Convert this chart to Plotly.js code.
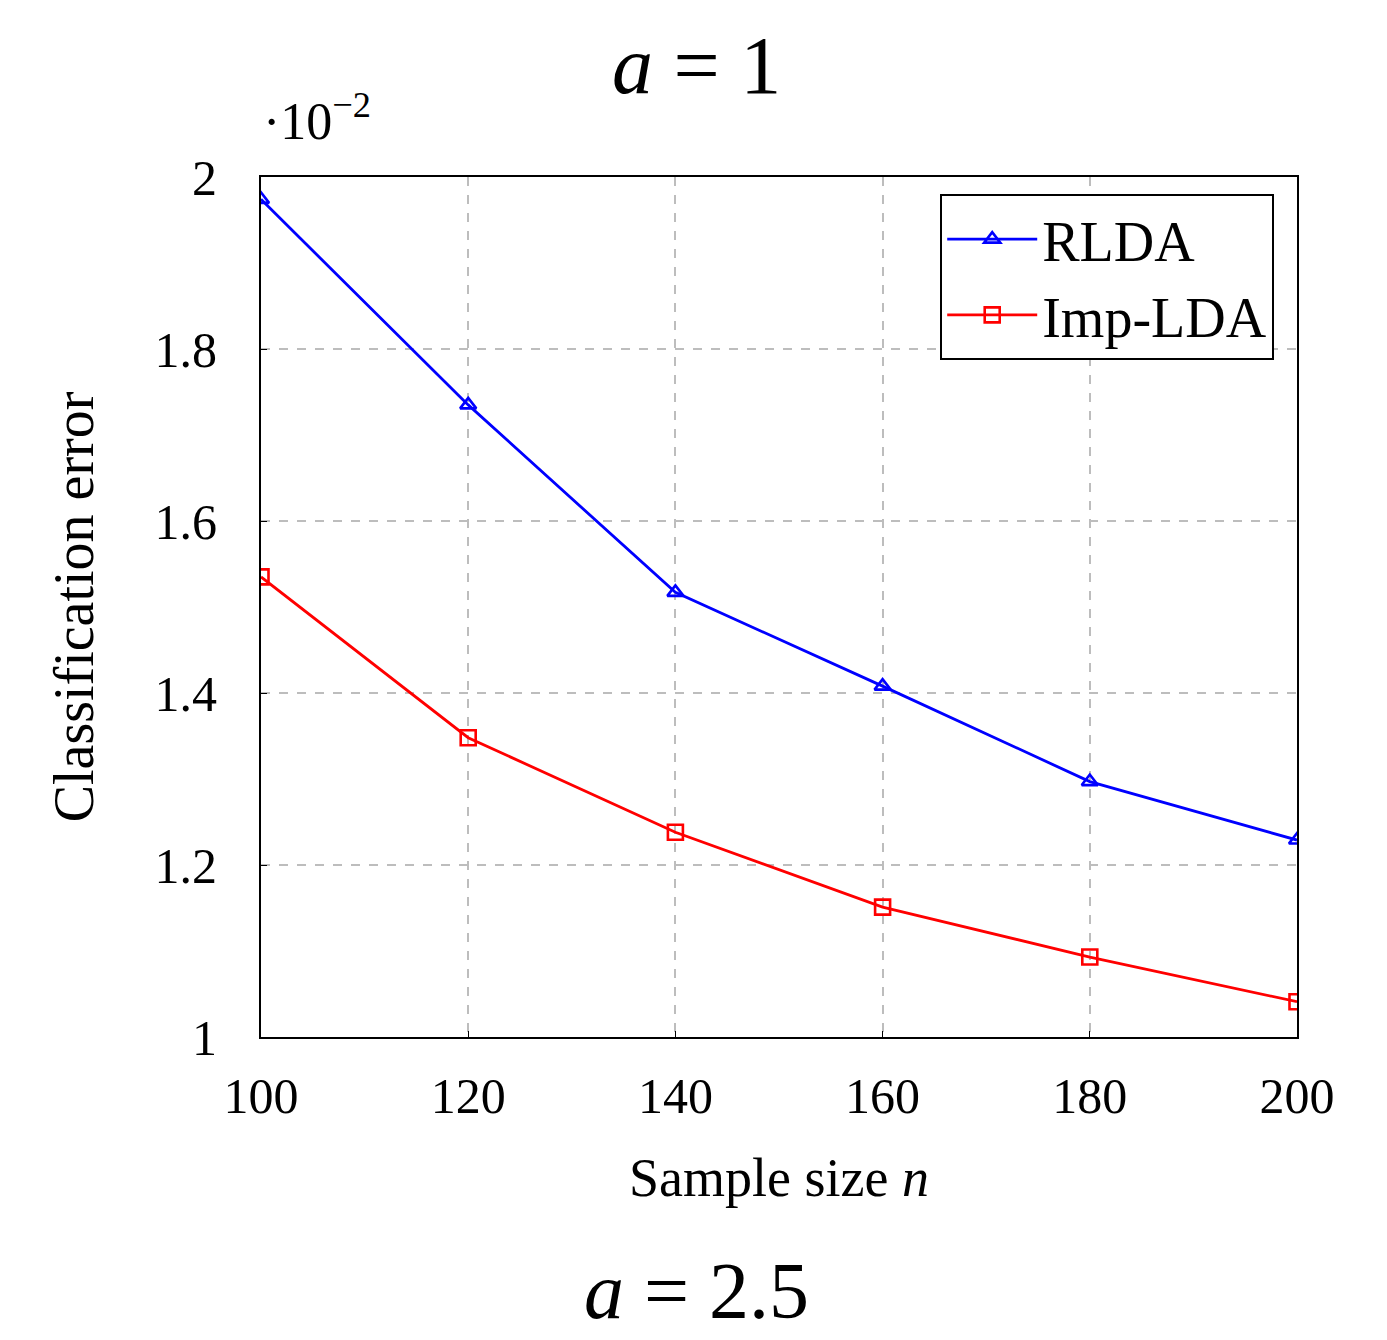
<!DOCTYPE html>
<html><head><meta charset="utf-8">
<script src="https://cdn.plot.ly/plotly-3.0.1.min.js"></script>
<style>body{margin:0;background:#fff}#plot{width:1387px;height:1340px}</style>
</head><body><div id="plot"></div>
<script>
const sampleSizes = [100, 120, 140, 160, 180, 200];
const rlda = [1.974, 1.735, 1.517, 1.408, 1.297, 1.229];
const impLda = [1.535, 1.348, 1.238, 1.151, 1.093, 1.041];
const yTicks = [1, 1.2, 1.4, 1.6, 1.8, 2];
const yTickText = ['1', '1.2', '1.4', '1.6', '1.8', '2'];

const F = 'Liberation Serif, DejaVu Serif, serif';

const traces = [
  {x: sampleSizes, y: rlda, name: 'RLDA', mode: 'lines+markers',
   line: {color: '#0000ff', width: 2.8},
   marker: {symbol: 'triangle-up-open', size: 14, color: '#0000ff', line: {width: 2.6, color: '#0000ff'}}},
  {x: sampleSizes, y: impLda, name: 'Imp-LDA', mode: 'lines+markers',
   line: {color: '#ff0000', width: 2.8},
   marker: {symbol: 'square-open', size: 15, color: '#ff0000', line: {width: 2.6, color: '#ff0000'}}}
];

const layout = {
  width: 1387, height: 1340,
  margin: {l: 261, r: 90, t: 177, b: 303},
  paper_bgcolor: '#fff', plot_bgcolor: '#fff',
  font: {family: F, color: '#000', size: 48},
  showlegend: true,
  xaxis: {
    range: [100, 200], tickvals: sampleSizes, ticktext: sampleSizes.map(String),
    showgrid: true, gridcolor: '#bdbdbd', griddash: 'dash', gridwidth: 1.6,
    showline: true, linecolor: '#000', linewidth: 2, mirror: true,
    ticks: 'inside', ticklen: 6, tickcolor: '#000', zeroline: false,
    tickfont: {family: F, size: 50}, ticklabelstandoff: 14,
    title: {text: 'Sample size <i>n</i>', font: {family: F, size: 54}, standoff: 35}
  },
  yaxis: {
    range: [1, 2], tickvals: yTicks, ticktext: yTickText,
    showgrid: true, gridcolor: '#bdbdbd', griddash: 'dash', gridwidth: 1.6,
    showline: true, linecolor: '#000', linewidth: 2, mirror: true,
    ticks: 'inside', ticklen: 6, tickcolor: '#000', zeroline: false,
    tickfont: {family: F, size: 50}, ticklabelstandoff: 32,
    title: {text: 'Classification error', font: {family: F, size: 56}, standoff: 43}
  },
  legend: {
    x: 0.978, y: 0.98, xanchor: 'right', yanchor: 'top',
    bgcolor: '#fff', bordercolor: '#000', borderwidth: 2,
    font: {family: F, size: 56}, itemwidth: 90
  },
  annotations: [
    {text: '<i>a</i> = 1', xref: 'paper', yref: 'paper', x: 0.42, y: 1, yshift: 112,
     xanchor: 'center', yanchor: 'middle', showarrow: false, font: {family: F, size: 82}},
    {text: '·10<sup>−2</sup>', xref: 'paper', yref: 'paper', x: 0, y: 1, yshift: 60,
     xanchor: 'left', yanchor: 'middle', showarrow: false, font: {family: F, size: 52}},
    {text: '<i>a</i> = 2.5', xref: 'paper', yref: 'paper', x: 0.42, y: 0, yshift: -254,
     xanchor: 'center', yanchor: 'middle', showarrow: false, font: {family: F, size: 80}}
  ]
};

Plotly.newPlot('plot', traces, layout, {displayModeBar: false});
</script></body></html>
